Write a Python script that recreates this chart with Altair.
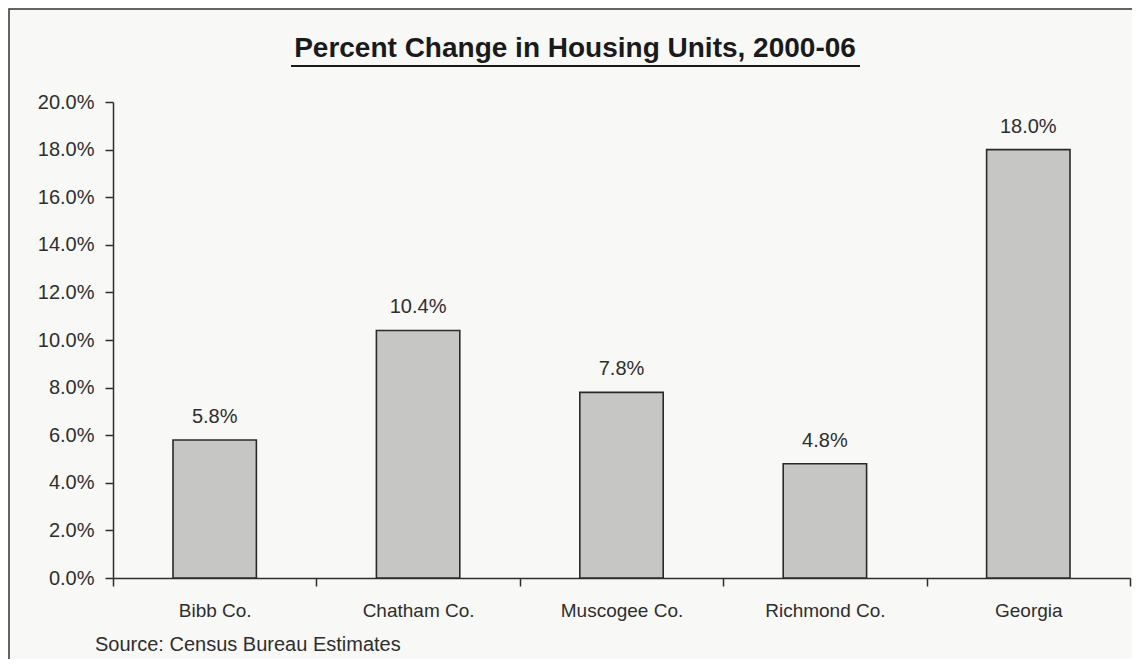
import altair as alt
import pandas as pd

categories = ["Bibb Co.", "Chatham Co.", "Muscogee Co.", "Richmond Co.", "Georgia"]
values = [5.8, 10.4, 7.8, 4.8, 18.0]
y_ticks = [0, 2, 4, 6, 8, 10, 12, 14, 16, 18, 20]
title_text = "Percent Change in Housing Units, 2000-06"
source_text = "Source: Census Bureau Estimates"

df = pd.DataFrame({"county": categories, "pct": values})
one = pd.DataFrame({"k": [0]})

W, H = 1017, 476
FONT = "Liberation Sans"
INK = "#2e2e2e"

x_enc = alt.X("county:N", sort=categories, title=None,
              scale=alt.Scale(paddingInner=0, paddingOuter=0),
              axis=alt.Axis(labelAngle=0, tickBand="extent", tickSize=8,
                            labelPadding=15, labelFontSize=19, labelFont=FONT,
                            labelColor=INK, domainColor=INK, tickColor=INK,
                            domainWidth=1.5, tickWidth=1.5))
y_enc = alt.Y("pct:Q", title=None,
              scale=alt.Scale(domain=[0, 20], nice=False),
              axis=alt.Axis(values=y_ticks, labelExpr="format(datum.value/100, '.1%')",
                            tickSize=8, labelPadding=11, labelFontSize=20, labelFont=FONT,
                            labelColor=INK, domainColor=INK, tickColor=INK,
                            domainWidth=1.5, tickWidth=1.5, grid=False))

base = alt.Chart(df)

bars = base.mark_bar(width=alt.RelativeBandSize(0.41), fill="#c6c6c4",
                     stroke="#2a2a2a", strokeWidth=1.6).encode(x=x_enc, y=y_enc)

labels = base.transform_calculate(lbl="format(datum.pct/100, '.1%')").mark_text(
    baseline="middle", dy=-23, fontSize=20, font=FONT, color=INK
).encode(x=alt.X("county:N", sort=categories), y="pct:Q", text="lbl:N")

title = alt.Chart(one).mark_text(
    text=title_text, fontSize=28, fontWeight="bold", font=FONT, color="#1a1a1a",
    align="center", baseline="middle"
).encode(x=alt.value(462), y=alt.value(-53))

underline = alt.Chart(one).mark_rule(color="#1a1a1a", strokeWidth=2).encode(
    x=alt.value(178), x2=alt.value(747), y=alt.value(-36))

source = alt.Chart(one).mark_text(
    text=source_text, fontSize=20, font=FONT, color=INK, align="left", baseline="middle"
).encode(x=alt.value(-18), y=alt.value(543))

border = alt.Chart(one).mark_rect(fill=None, stroke="#333333", strokeWidth=1.5).encode(
    x=alt.value(-104), x2=alt.value(1021), y=alt.value(-93), y2=alt.value(620))

chart = alt.layer(border, bars, labels, title, underline, source).properties(
    width=W, height=H,
    autosize=alt.AutoSizeParams(type="none"),
    padding={"left": 105, "top": 94, "right": 2, "bottom": 81},
    background="#f8f8f6",
).configure_view(stroke=None)

chart.save("out.html", embed_options={"renderer": "svg", "actions": False})
